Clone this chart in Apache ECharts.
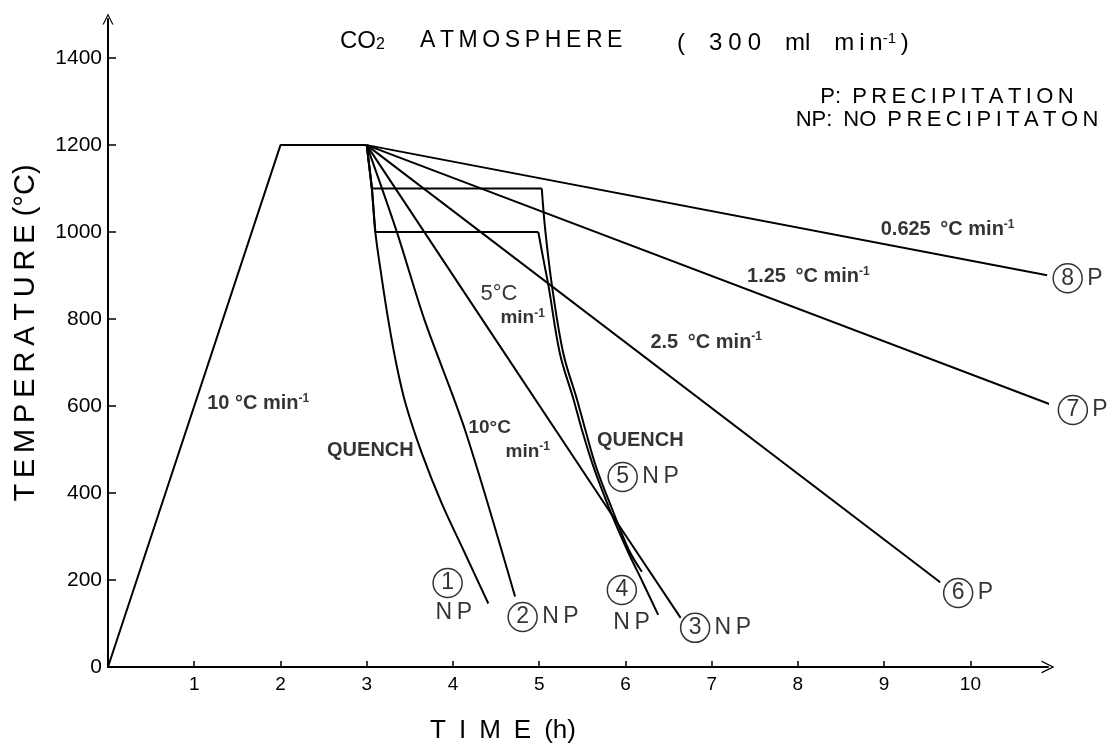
<!DOCTYPE html>
<html>
<head>
<meta charset="utf-8">
<script src="https://cdn.jsdelivr.net/npm/echarts@6/dist/echarts.min.js"></script>
<style>
html,body{margin:0;padding:0;background:#fff;}
#main{width:1110px;height:745px;}
</style>
</head>
<body>
<div id="main"></div>
<script>
// points are [time (h), temperature (C)]
var heatPath = [[0, 0], [2, 1200], [3, 1200]];
var run1 = [[3, 1200], [3.06, 1100], [3.10, 1000], [3.17, 900], [3.25, 798], [3.34, 700], [3.45, 606], [3.64, 491], [3.87, 376], [4.14, 261], [4.41, 146]];
var run2 = [[3, 1200], [3.35, 1000], [3.67, 798], [4.14, 545], [4.72, 162]];
var run3 = [[3, 1200], [4.46, 763], [5.86, 345], [6.64, 113]];
var run4 = [[3, 1200], [3.06, 1100], [3.10, 1000], [4.99, 1000], [5.05, 936], [5.11, 874], [5.24, 721], [5.40, 614], [5.49, 549], [5.63, 460], [5.82, 361], [6.02, 269], [6.20, 195], [6.38, 120]];
var run5 = [[3, 1200], [3.06, 1100], [5.03, 1100], [5.07, 1005], [5.15, 874], [5.28, 721], [5.44, 614], [5.53, 549], [5.66, 460], [5.85, 361], [6.04, 269], [6.19, 219]];
var run6 = [[3, 1200], [9.65, 195]];
var run7 = [[3, 1200], [11.02, 597]];
var run8 = [[3, 1200], [10.89, 901]];

var yTicks = [0, 200, 400, 600, 800, 1000, 1200, 1400];
var xTicks = [1, 2, 3, 4, 5, 6, 7, 8, 9, 10];

// rate / quench notes
var noteText = ['10 °C min{s|-1}', 'QUENCH', '10°C', 'min{s|-1}', '5°C', 'min{s|-1}',
  '2.5\u2009 °C min{s|-1}', '1.25\u2009 °C min{s|-1}', '0.625\u2009 °C min{s|-1}', 'QUENCH'];
var noteKind = ['rate', 'quench', 'small', 'small', 'big', 'small', 'rate', 'rate', 'rate', 'quench'];
var noteAt = [[1.15, 605], [2.54, 497], [4.18, 549], [4.61, 494], [4.32, 857], [4.55, 802],
  [6.29, 747], [7.41, 897], [8.96, 1005], [5.67, 520]];

// run numbers in circles, and the result written after them
var runNo = ['1', '2', '3', '4', '5', '6', '7', '8'];
var runResult = ['', 'NP', 'NP', '', 'NP', 'P', 'P', 'P'];
var runLabelAt = [[3.77, 193], [4.64, 115], [6.64, 90], [5.79, 177], [5.80, 437], [9.69, 170], [11.02, 591], [10.96, 894]];
var belowText = ['NP', 'NP'];
var belowAt = [[3.74, 124], [5.80, 103]];

var FONT = '"Liberation Sans", Arial, sans-serif';

var kindStyle = {
	rate: { fontSize: 20, fontWeight: 'bold' },
	quench: { fontSize: 20, fontWeight: 'bold' },
	small: { fontSize: 19, fontWeight: 'bold' },
	big: { fontSize: 22, fontWeight: 'normal' }
};

function spaced(s, gap) {
	return s.split('').join(gap);
}

function fixed(t) {
	return function () { return t; };
}

function lineSeries(name, pts, smooth) {
	return {
		name: name,
		type: 'line',
		data: pts,
		smooth: smooth || false,
		showSymbol: false,
		symbol: 'none',
		clip: false,
		silent: true,
		animation: false,
		lineStyle: { color: '#000', width: 2 }
	};
}

var chart = echarts.init(document.getElementById('main'));

var series = [
	lineSeries('heat', heatPath),
	lineSeries('run 1', run1, 0.35),
	lineSeries('run 2', run2, 0.3),
	lineSeries('run 3', run3),
	lineSeries('run 4 hold', run4.slice(0, 4)),
	lineSeries('run 4 quench', run4.slice(3), 0.35),
	lineSeries('run 5 hold', run5.slice(0, 3)),
	lineSeries('run 5 quench', run5.slice(2), 0.35),
	lineSeries('run 6', run6),
	lineSeries('run 7', run7),
	lineSeries('run 8', run8)
];

var noteData = [];
for (var i = 0; i < noteText.length; i++) {
	var ks = kindStyle[noteKind[i]];
	noteData.push({
		value: noteAt[i],
		label: { formatter: fixed(noteText[i]), fontSize: ks.fontSize, fontWeight: ks.fontWeight }
	});
}
for (var i = 0; i < runNo.length; i++) {
	var txt = '{c|' + runNo[i] + '}' + (runResult[i] ? '{t|' + spaced(runResult[i], '\u2009') + '}' : '');
	noteData.push({ value: runLabelAt[i], label: { formatter: fixed(txt) } });
}
for (var i = 0; i < belowText.length; i++) {
	noteData.push({ value: belowAt[i], label: { formatter: fixed('{t|' + spaced(belowText[i], '\u2009') + '}') } });
}

series.push({
	name: 'notes',
	type: 'scatter',
	data: noteData,
	symbolSize: 0,
	clip: false,
	silent: true,
	animation: false,
	z: 10,
	label: {
		show: true,
		position: 'inside',
		align: 'left',
		verticalAlign: 'middle',
		color: '#000',
		fontFamily: FONT,
		fontWeight: 'bold',
		fontSize: 19,
		lineHeight: 22,
		rich: {
			s: { fontSize: 12, fontWeight: 'bold', fontFamily: FONT, color: '#000', verticalAlign: 'top', lineHeight: 11 },
			c: { width: 29, height: 29, lineHeight: 29, borderRadius: 15, borderWidth: 1.5, borderColor: '#000',
				align: 'center', fontSize: 23, fontWeight: 'normal', fontFamily: FONT, color: '#000' },
			t: { fontSize: 23, fontWeight: 'normal', fontFamily: FONT, color: '#000', padding: [0, 0, 0, 5] }
		}
	}
});

var arrowPath = 'path://M0,12 L6,0 L12,12 L10.6,12 L6,2.6 L1.4,12 Z';

var option = {
	backgroundColor: '#fff',
	animation: false,
	grid: { left: 108, right: 62, top: 19, bottom: 78, containLabel: false },
	xAxis: {
		type: 'value',
		min: 0,
		max: 10.9,
		axisLine: { show: true, symbol: ['none', arrowPath], symbolSize: [16, 13], lineStyle: { color: '#000', width: 2 } },
		axisTick: { show: true, inside: true, length: 6, customValues: xTicks, lineStyle: { color: '#000', width: 1.5 } },
		axisLabel: { customValues: xTicks, color: '#000', fontSize: 19, fontFamily: FONT, margin: 8,
			formatter: function (v) { return String(v); } },
		splitLine: { show: false }
	},
	yAxis: {
		type: 'value',
		min: 0,
		max: 1490,
		axisLine: { show: true, symbol: ['none', arrowPath], symbolSize: [17, 11], lineStyle: { color: '#000', width: 2 } },
		axisTick: { show: true, inside: true, length: 8, customValues: yTicks, lineStyle: { color: '#000', width: 1.5 } },
		axisLabel: { customValues: yTicks, color: '#000', fontSize: 21, fontFamily: FONT, margin: 6,
			formatter: function (v) { return String(v); } },
		splitLine: { show: false }
	},
	graphic: [
		{ type: 'text', x: 340, y: 41, silent: true,
			style: { text: 'CO{b|2}', fill: '#000', font: '24px ' + FONT, verticalAlign: 'middle',
				rich: { b: { fontSize: 16, fontFamily: FONT, fill: '#000', verticalAlign: 'bottom', lineHeight: 15 } } } },
		{ type: 'text', x: 420, y: 41, silent: true,
			style: { text: spaced('ATMOSPHERE', '\u2009'), fill: '#000', font: '23px ' + FONT, verticalAlign: 'middle' } },
		{ type: 'text', x: 677, y: 43, silent: true,
			style: { text: '(\u2003' + spaced('300', '\u2005') + '\u2003ml\u2003' + spaced('min', '\u2009') + '{s|-1}\u2009)', fill: '#000', font: '24px ' + FONT, verticalAlign: 'middle',
				rich: { s: { fontSize: 15, fontFamily: FONT, fill: '#000', verticalAlign: 'top', lineHeight: 13 } } } },
		{ type: 'text', x: 947, y: 97, silent: true,
			style: { text: 'P:\u2002' + spaced('PRECIPITATION', '\u2009'), fill: '#000', font: '22px ' + FONT, align: 'center', verticalAlign: 'middle' } },
		{ type: 'text', x: 947, y: 120, silent: true,
			style: { text: 'NP:\u2002NO\u2002' + spaced('PRECIPITATON', '\u2009'), fill: '#000', font: '22px ' + FONT, align: 'center', verticalAlign: 'middle' } },
		{ type: 'text', x: 26, y: 333, rotation: Math.PI / 2, silent: true,
			style: { text: spaced('TEMPERATURE', '\u2009') + ' (°C)', fill: '#000', font: '29px ' + FONT, align: 'center', verticalAlign: 'middle' } },
		{ type: 'text', x: 503, y: 731, silent: true,
			style: { text: 'T\u2002I\u2002M\u2002E\u2002(h)', fill: '#000', font: '26px ' + FONT, align: 'center', verticalAlign: 'middle' } }
	],
	series: series
};

chart.setOption(option, true);
</script>
</body>
</html>
